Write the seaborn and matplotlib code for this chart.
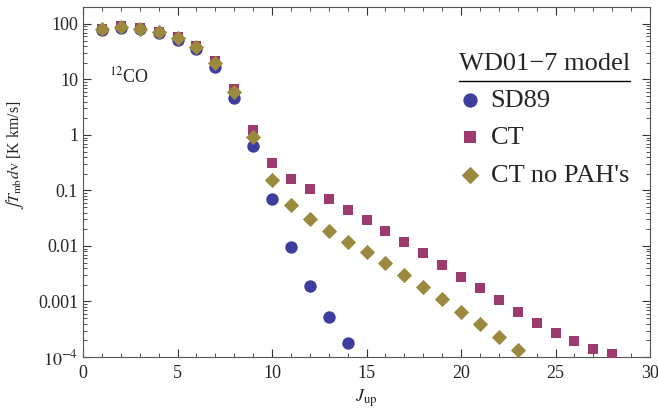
import numpy as np
import pandas as pd
import matplotlib
matplotlib.use("Agg")
import matplotlib.pyplot as plt
from matplotlib.ticker import FixedLocator, NullFormatter
import seaborn as sns

# data
j_sd89 = list(range(1, 15))
sd89 = [78, 85, 81, 69, 52, 35, 16.8, 4.6, 0.63, 0.070, 0.0097, 0.0019, 0.00052, 0.000179]

j_ct = list(range(1, 29))
ct = [82, 90, 85, 73, 58, 40, 21.5, 6.7, 1.23, 0.31, 0.16, 0.107, 0.070,
      0.0446, 0.0294, 0.0186, 0.0118, 0.0075, 0.00455, 0.00276, 0.00175,
      0.00106, 0.00065, 0.00041, 0.00027, 0.000194, 0.000139, 0.000113]

j_nopah = list(range(1, 24))
nopah = [80, 88, 81, 72, 55, 38, 20, 6.0, 0.93, 0.155, 0.055, 0.031, 0.019,
         0.0118, 0.0078, 0.0049, 0.0030, 0.0018, 0.0011, 0.00065, 0.00039,
         0.00023, 0.000135]

labels = ["SD89", "CT", "CT no PAH's"]
colors = ["#3e3e9e", "#9e3b6e", "#9b8a3e"]
markers = ["o", "s", "D"]

df = pd.concat([
    pd.DataFrame({"J": j_sd89, "I": sd89, "model": labels[0]}),
    pd.DataFrame({"J": j_ct, "I": ct, "model": labels[1]}),
    pd.DataFrame({"J": j_nopah, "I": nopah, "model": labels[2]}),
])

sns.set_style("ticks")
plt.rcParams["font.family"] = ["Liberation Serif", "DejaVu Serif"]
plt.rcParams["mathtext.fontset"] = "stix"

fig = plt.figure(figsize=(6.58, 4.19), dpi=100)
ax = fig.add_axes([83 / 658, 1 - 357 / 419, (650 - 83) / 658, (357 - 7) / 419])

sizes = {"SD89": 80, "CT": 55, "CT no PAH's": 60}
for lab, col, mk in zip(labels, colors, markers):
    sub = df[df["model"] == lab]
    sns.scatterplot(data=sub, x="J", y="I", color=col, marker=mk, s=sizes[lab],
                    linewidth=0, ax=ax, label=lab, zorder=3)

ax.set_yscale("log")
ax.set_xlim(0, 30)
ax.set_ylim(1e-4, 202)
ax.set_yticks([1e-4, 1e-3, 1e-2, 0.1, 1, 10, 100])
ax.set_yticklabels([r"$10^{-4}$", "0.001", "0.01", "0.1", "1", "10", "100"])
minor_y = [m * 10.0 ** e for e in range(-4, 3) for m in range(2, 10)]
ax.yaxis.set_minor_locator(FixedLocator(minor_y))
ax.yaxis.set_minor_formatter(NullFormatter())
ax.set_xticks([0, 5, 10, 15, 20, 25, 30])
ax.set_xticks(np.arange(0, 31, 1), minor=True)
ax.tick_params(which="both", direction="in", top=True, right=True, labelsize=13, color="#333333")
ax.tick_params(which="major", length=6)
ax.tick_params(which="minor", length=3)
ax.tick_params(axis="x", pad=6)
for s in ax.spines.values():
    s.set_color("#555555")

ax.set_xlabel(r"$J_{\rm up}$", fontsize=13)
ax.set_ylabel(r"$\int T_{\rm mb} d{\rm v}$ [K km/s]", fontsize=11.5)
ax.yaxis.set_label_coords(-0.1, 0.575)
ax.text(1.4, 9.0, r"$^{12}$CO", fontsize=13)

leg = ax.legend(loc="upper left", bbox_to_anchor=(459 / 658, 1 - 53 / 419),
                bbox_transform=fig.transFigure, frameon=False, borderpad=0,
                title="WD01\u22127 model", fontsize=19, title_fontsize=19,
                handlelength=0.8, handletextpad=0.4, labelspacing=0.52,
                markerscale=1.15, borderaxespad=0)
leg._legend_box.align = "left"
fig.add_artist(plt.Line2D([459 / 658, 630 / 658], [1 - 81 / 419, 1 - 81 / 419],
                          color="black", lw=1))

fig.savefig("out.png", dpi=100)
